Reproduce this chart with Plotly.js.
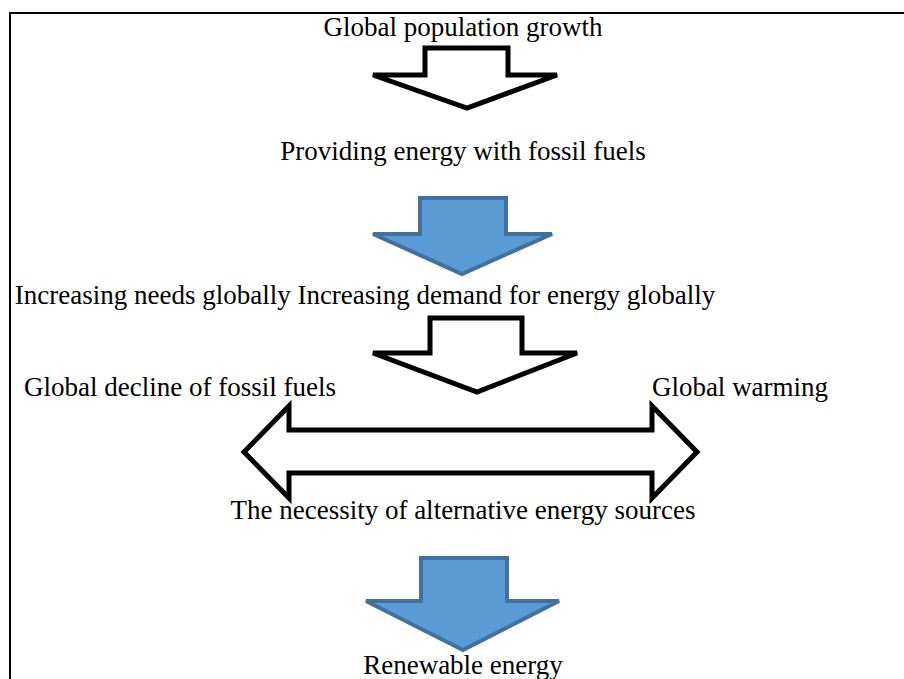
<!DOCTYPE html>
<html>
<head>
<meta charset="utf-8">
<script src="https://cdn.plot.ly/plotly-3.0.1.min.js"></script>
<style>html,body{margin:0;padding:0;background:#fff;}#chart{width:904px;height:679px;}</style>
</head>
<body>
<div id="chart"></div>
<script>
// Text labels of the flow diagram
const labels = [
  "Global population growth",
  "Providing energy with fossil fuels",
  "Increasing needs globally Increasing demand for energy globally",
  "Global decline of fossil fuels",
  "Global warming",
  "The necessity of alternative energy sources",
  "Renewable energy"
];
const labelX = [463, 463, 365, 180, 740, 463, 463];
const labelY = [29, 153, 297, 389, 389, 512, 667];

// Down arrows: [shaftLeft, shaftRight, top, shoulderY, wingLeft, wingRight, tipX, tipY]
const downArrows = [
  [425, 508, 48, 75, 373, 557, 467, 108],
  [420, 506, 198, 234, 373, 552, 462, 274],
  [430, 522, 318, 353, 373, 577, 477, 392],
  [421, 507, 558, 601, 366, 559, 463, 650]
];
const downStyles = ["white", "blue", "white", "blue"];
// Double arrow: [leftTip, leftBack, rightBack, rightTip, headTop, shaftTop, midY, shaftBottom, headBottom]
const doubleArrow = [244, 289, 652, 697, 406, 430, 452, 473, 498];

function downPath(a) {
  const [sl, sr, t, s, wl, wr, tx, ty] = a;
  return `M ${sl} ${t} L ${sr} ${t} L ${sr} ${s} L ${wr} ${s} L ${tx} ${ty} L ${wl} ${s} L ${sl} ${s} Z`;
}
function dblPath(d) {
  const [lt, lb, rb, rt, ht, st, my, sb, hb] = d;
  return `M ${lt} ${my} L ${lb} ${ht} L ${lb} ${st} L ${rb} ${st} L ${rb} ${ht} L ${rt} ${my} L ${rb} ${hb} L ${rb} ${sb} L ${lb} ${sb} L ${lb} ${hb} Z`;
}

const shapes = [];
shapes.push({type: "path", path: "M 10 679 L 10 13 L 904 13", line: {color: "#000", width: 2}, xref: "x", yref: "y"});
downArrows.forEach((a, i) => {
  const blue = downStyles[i] === "blue";
  shapes.push({
    type: "path", path: downPath(a), xref: "x", yref: "y",
    fillcolor: blue ? "#5B9BD5" : "#ffffff",
    line: {color: blue ? "#41719C" : "#000000", width: blue ? 4 : 5}
  });
});
shapes.push({type: "path", path: dblPath(doubleArrow), xref: "x", yref: "y",
  fillcolor: "#ffffff", line: {color: "#000000", width: 5}});

const trace = {
  type: "scatter", mode: "text",
  x: labelX, y: labelY, text: labels,
  textposition: "middle center",
  textfont: {family: "Liberation Serif", size: 27, color: "#000"},
  hoverinfo: "none", cliponaxis: false
};

const layout = {
  width: 904, height: 679,
  margin: {l: 0, r: 0, t: 0, b: 0},
  paper_bgcolor: "#fff", plot_bgcolor: "#fff",
  showlegend: false,
  xaxis: {range: [0, 904], visible: false, fixedrange: true},
  yaxis: {range: [679, 0], visible: false, fixedrange: true},
  shapes: shapes
};
Plotly.newPlot("chart", [trace], layout, {displayModeBar: false, staticPlot: true});
</script>
</body>
</html>
